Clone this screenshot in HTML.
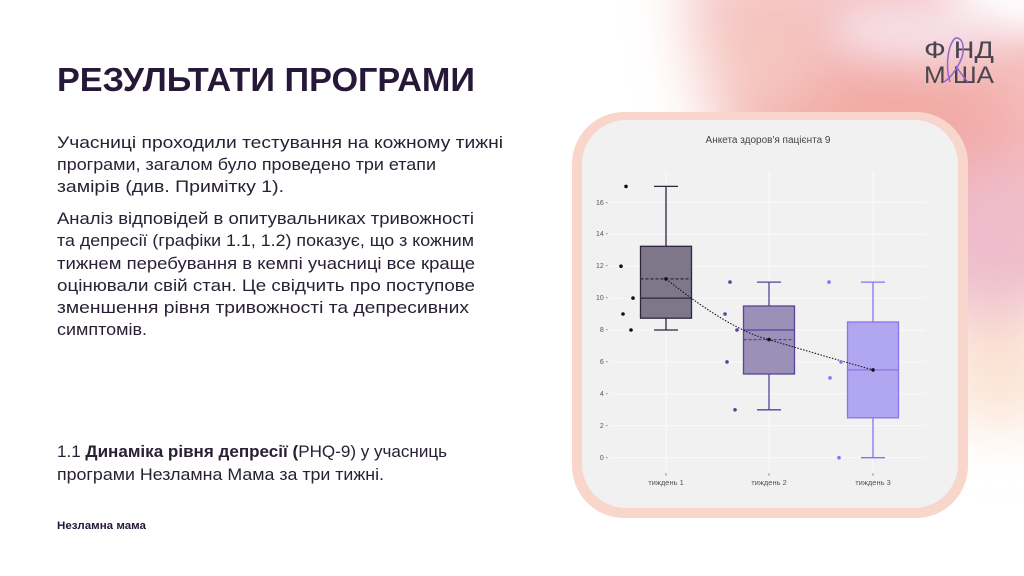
<!DOCTYPE html>
<html><head><meta charset="utf-8"><style>
html,body{margin:0;padding:0;width:1024px;height:576px;overflow:hidden;background:#fff}
svg{display:block}
text{font-family:"Liberation Sans","DejaVu Sans",sans-serif}
</style></head><body>
<svg width="1024" height="576" viewBox="0 0 1024 576" xmlns="http://www.w3.org/2000/svg">
<defs>
<filter id="bl" x="-50%" y="-50%" width="200%" height="200%"><feGaussianBlur stdDeviation="30"/></filter>
<filter id="bl2" x="-50%" y="-50%" width="200%" height="200%"><feGaussianBlur stdDeviation="18"/></filter>
</defs>
<rect width="1024" height="576" fill="#fff"/>
<g filter="url(#bl)">
<path d="M690 -40 L1100 -40 L1100 300 C 1000 290, 880 250, 780 200 C 720 160, 690 80, 690 -40 Z" fill="#f4c0c0"/>
<ellipse cx="880" cy="130" rx="150" ry="70" fill="#f2aaa5"/>
<ellipse cx="990" cy="250" rx="70" ry="90" fill="#eebccc"/>
<ellipse cx="1000" cy="370" rx="60" ry="60" fill="#fbe2d2"/>
<ellipse cx="760" cy="60" rx="60" ry="60" fill="#f5c6c0"/>
</g>
<g filter="url(#bl2)">
<ellipse cx="1015" cy="0" rx="70" ry="35" fill="#ffffff"/>
<ellipse cx="920" cy="30" rx="90" ry="30" fill="#f6dfe6"/>
</g>

<!-- logo -->
<g font-size="24" fill="#4a4550">
<text x="924" y="58" textLength="70" lengthAdjust="spacingAndGlyphs">Ф  НД</text>
<text x="924" y="83" textLength="70" lengthAdjust="spacingAndGlyphs">М  ША</text>
</g>
<path d="M950 82 C 944 62, 950 40, 956 38 C 963 37, 966 50, 960 62 C 955 72, 950 78, 944 82 M956 66 C 960 72, 964 78, 968 82" stroke="#8a6ad0" stroke-width="1.5" fill="none"/>

<!-- left text -->
<text x="57" y="91" font-size="33" font-weight="bold" fill="#261838" textLength="418" lengthAdjust="spacingAndGlyphs">РЕЗУЛЬТАТИ ПРОГРАМИ</text>
<g font-size="17" fill="#2a2035">
<text x="57" y="148" textLength="446" lengthAdjust="spacingAndGlyphs">Учасниці проходили тестування на кожному тижні</text>
<text x="57" y="170" textLength="379" lengthAdjust="spacingAndGlyphs">програми, загалом було проведено три етапи</text>
<text x="57" y="192" textLength="227" lengthAdjust="spacingAndGlyphs">замірів (див. Примітку 1).</text>
<text x="57" y="224" textLength="417" lengthAdjust="spacingAndGlyphs">Аналіз відповідей в опитувальниках тривожності</text>
<text x="57" y="246" textLength="417" lengthAdjust="spacingAndGlyphs">та депресії (графіки 1.1, 1.2) показує, що з кожним</text>
<text x="57" y="269" textLength="418" lengthAdjust="spacingAndGlyphs">тижнем перебування в кемпі учасниці все краще</text>
<text x="57" y="291" textLength="418" lengthAdjust="spacingAndGlyphs">оцінювали свій стан. Це свідчить про поступове</text>
<text x="57" y="313" textLength="412" lengthAdjust="spacingAndGlyphs">зменшення рівня тривожності та депресивних</text>
<text x="57" y="335" textLength="90" lengthAdjust="spacingAndGlyphs">симптомів.</text>
<text x="57" y="457" textLength="390" lengthAdjust="spacingAndGlyphs">1.1 <tspan font-weight="bold">Динаміка рівня депресії (</tspan>PHQ-9) у учасниць</text>
<text x="57" y="480" textLength="327" lengthAdjust="spacingAndGlyphs">програми Незламна Мама за три тижні.</text>
</g>
<text x="57" y="529" font-size="11" font-weight="bold" fill="#261838" textLength="89" lengthAdjust="spacingAndGlyphs">Незламна мама</text>

<!-- card -->
<rect x="572" y="112" width="396" height="406" rx="52" fill="#f8d6cc"/>
<rect x="582" y="120" width="376" height="388" rx="44" fill="#f1f1f1"/>
<text x="768" y="143" font-size="10" fill="#444" text-anchor="middle">Анкета здоров'я пацієнта 9</text>

<!-- grid -->
<g stroke="#fafafa" stroke-width="1">
<line x1="666" y1="172" x2="666" y2="470"/><line x1="769" y1="172" x2="769" y2="470"/><line x1="873" y1="172" x2="873" y2="470"/>
<line x1="610" y1="457.7" x2="925" y2="457.7"/><line x1="610" y1="425.8" x2="925" y2="425.8"/>
<line x1="610" y1="393.9" x2="925" y2="393.9"/><line x1="610" y1="361.9" x2="925" y2="361.9"/>
<line x1="610" y1="330" x2="925" y2="330"/><line x1="610" y1="298.1" x2="925" y2="298.1"/>
<line x1="610" y1="266.2" x2="925" y2="266.2"/><line x1="610" y1="234.3" x2="925" y2="234.3"/>
<line x1="610" y1="202.3" x2="925" y2="202.3"/>
</g>
<g font-size="7" fill="#555" text-anchor="end">
<text x="608" y="460">0 -</text><text x="608" y="428">2 -</text><text x="608" y="396">4 -</text>
<text x="608" y="364">6 -</text><text x="608" y="332">8 -</text><text x="608" y="300">10 -</text>
<text x="608" y="268">12 -</text><text x="608" y="236">14 -</text><text x="608" y="205">16 -</text>
</g>
<g font-size="7.5" fill="#555" text-anchor="middle">
<text x="666" y="485">тиждень 1</text><text x="769" y="485">тиждень 2</text><text x="873" y="485">тиждень 3</text>
</g>
<g stroke="#888" stroke-width="0.8">
<line x1="666" y1="473" x2="666" y2="476"/><line x1="769" y1="473" x2="769" y2="476"/><line x1="873" y1="473" x2="873" y2="476"/>
</g>

<!-- box 1 -->
<g stroke="#2e2540" stroke-width="1.3" fill="none">
<line x1="666" y1="186.4" x2="666" y2="246.3"/><line x1="666" y1="318" x2="666" y2="330"/>
<line x1="654" y1="186.4" x2="678" y2="186.4"/><line x1="654" y1="330" x2="678" y2="330"/>
<rect x="640.5" y="246.3" width="51" height="71.9" fill="#7e7789"/>
<line x1="640.5" y1="298.1" x2="691.5" y2="298.1"/>
<line x1="640.5" y1="278.9" x2="691.5" y2="278.9" stroke-dasharray="3,2"/>
</g>
<!-- box 2 -->
<g stroke="#54449a" stroke-width="1.3" fill="none">
<line x1="769" y1="282.1" x2="769" y2="306"/><line x1="769" y1="374" x2="769" y2="409.8"/>
<line x1="757" y1="282.1" x2="781" y2="282.1"/><line x1="757" y1="409.8" x2="781" y2="409.8"/>
<rect x="743.5" y="306" width="51" height="68" fill="#9a90b8"/>
<line x1="743.5" y1="330" x2="794.5" y2="330"/>
<line x1="743.5" y1="339.6" x2="794.5" y2="339.6" stroke-dasharray="3,2"/>
</g>
<!-- box 3 -->
<g stroke="#8d6ff0" stroke-width="1.3" fill="none">
<line x1="873" y1="282.1" x2="873" y2="322"/><line x1="873" y1="417.8" x2="873" y2="457.7"/>
<line x1="861" y1="282.1" x2="885" y2="282.1"/><line x1="861" y1="457.7" x2="885" y2="457.7"/>
<rect x="847.5" y="322" width="51" height="95.8" fill="#b1a6f0"/>
<line x1="847.5" y1="369.9" x2="898.5" y2="369.9"/>
</g>
<path d="M666 278.9 Q 730 330 769 339.6 Q 820 355 873 369.9" stroke="#1a1426" stroke-width="1.1" stroke-dasharray="1.5,1.5" fill="none"/>
<g fill="#111">
<circle cx="666" cy="278.9" r="1.8"/><circle cx="769" cy="339.6" r="1.8"/><circle cx="873" cy="369.9" r="1.8"/>
</g>
<g fill="#111">
<circle cx="626" cy="186.4" r="1.8"/><circle cx="621" cy="266.2" r="1.8"/><circle cx="633" cy="298.1" r="1.8"/>
<circle cx="623" cy="314" r="1.8"/><circle cx="631" cy="330" r="1.8"/>
</g>
<g fill="#54449a">
<circle cx="730" cy="282.1" r="1.8"/><circle cx="725" cy="314" r="1.8"/><circle cx="737" cy="330" r="1.8"/>
<circle cx="727" cy="361.9" r="1.8"/><circle cx="735" cy="409.8" r="1.8"/>
</g>
<g fill="#8d6ff0">
<circle cx="829" cy="282.1" r="1.8"/><circle cx="841" cy="361.9" r="1.8"/><circle cx="830" cy="377.9" r="1.8"/>
<circle cx="839" cy="457.7" r="1.8"/>
</g>
</svg>
</body></html>
